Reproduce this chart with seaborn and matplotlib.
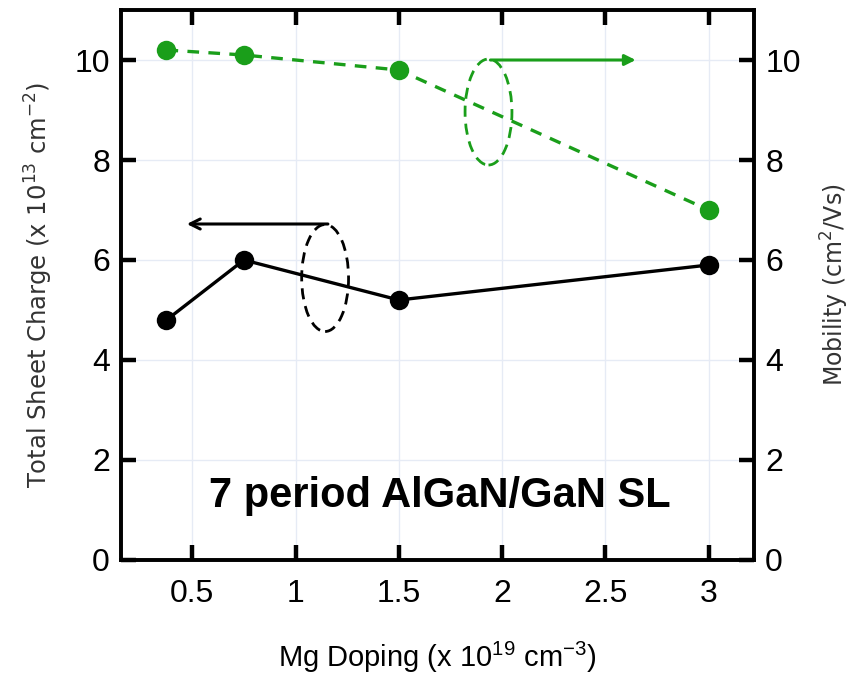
import matplotlib
matplotlib.use("Agg")
import matplotlib.pyplot as plt
import seaborn as sns
import pandas as pd
from matplotlib.patches import Ellipse

# Mg doping (x 10^19 cm^-3)
mg_doping = [0.375, 0.75, 1.5, 3.0]
sheet_charge = [4.8, 6.0, 5.2, 5.9]      # x 10^13 cm^-2 (left axis)
mobility = [10.2, 10.1, 9.8, 7.0]        # cm^2/Vs (right axis)

x_ticks = [0.5, 1, 1.5, 2, 2.5, 3]
x_tick_labels = ["0.5", "1", "1.5", "2", "2.5", "3"]
y_ticks = [0, 2, 4, 6, 8, 10]

GREEN = "#1a9e1a"
NARROW = ["Liberation Sans", "DejaVu Sans"]

sns.set_style("ticks")
plt.rcParams["font.family"] = NARROW
plt.rcParams["mathtext.default"] = "regular"
for key in ("text.color", "axes.labelcolor", "xtick.color", "ytick.color",
            "axes.edgecolor"):
    plt.rcParams[key] = "black"

df = pd.DataFrame({"mg": mg_doping, "charge": sheet_charge, "mob": mobility})

fig = plt.figure(figsize=(8.56, 6.81), dpi=100)
ax = fig.add_axes([0.1414, 0.1777, 0.7396, 0.8076])
ax2 = ax.twinx()

sns.lineplot(data=df, x="mg", y="charge", ax=ax, color="black", lw=2.4,
             marker="o", markersize=14, markeredgewidth=0)
sns.lineplot(data=df, x="mg", y="mob", ax=ax2, color=GREEN, lw=2.4,
             linestyle=(0, (3.5, 2.8)), marker="o", markersize=14,
             markeredgewidth=0)

for a in (ax, ax2):
    a.set_xlim(0.155, 3.22)
    a.set_ylim(0, 11)
    a.set_yticks(y_ticks)
    for s in a.spines.values():
        s.set_linewidth(2.6)
        s.set_visible(True)

ax.set_xticks(x_ticks)
ax.set_xticklabels(x_tick_labels)
ax.grid(True, color="#e6ebf5", lw=1)
ax.tick_params(axis="both", direction="in", length=11, width=3.2,
               labelsize=23, top=True, pad=14)
ax.tick_params(axis="y", pad=8)
ax2.tick_params(axis="y", direction="in", length=11, width=3.2,
                labelsize=23, pad=8)

label_font = ["DejaVu Sans"]
ax.set_xlabel("Mg Doping (x 10$^{19}$ cm$^{-3}$)", fontsize=21,
              family=NARROW, labelpad=22)
ax.set_ylabel("Total Sheet Charge (x 10$^{13}$ cm$^{-2}$)", fontsize=17.5,
              family=label_font, color="#333333", labelpad=14)
ax2.set_ylabel("Mobility (cm$^{2}$/Vs)", fontsize=17, family=label_font,
               color="#333333", labelpad=13)

# black (left axis) indicator
ax.add_patch(Ellipse((1.143, 5.64), 0.227, 2.14, fill=False, ec="black",
                     lw=2, ls=(0, (4, 2.5)), zorder=3))
ax.annotate("", xy=(0.46, 6.72), xytext=(1.17, 6.72),
            arrowprops=dict(arrowstyle="->", color="black", lw=2.2,
                            mutation_scale=18))

# green (right axis) indicator
ax2.add_patch(Ellipse((1.934, 8.96), 0.227, 2.12, fill=False, ec=GREEN,
                      lw=2, ls=(0, (4, 2.5)), zorder=3))
ax2.annotate("", xy=(2.66, 10.0), xytext=(1.93, 10.0),
             arrowprops=dict(arrowstyle="-|>", color=GREEN, lw=2.2,
                             mutation_scale=16))

ax.text(1.70, 1.28, "7 period AlGaN/GaN SL", fontsize=30, fontweight="bold",
        ha="center", va="center", family=NARROW)

fig.savefig("out.png", dpi=100)
